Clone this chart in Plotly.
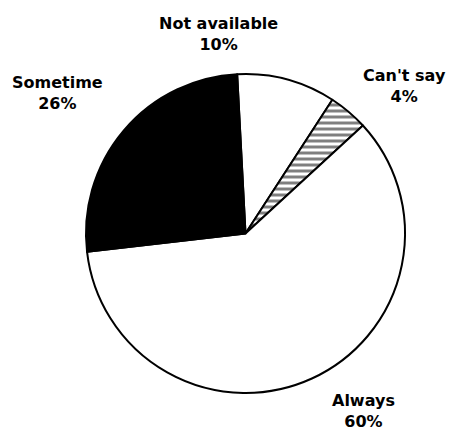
import plotly.graph_objects as go

labels = ["Not available", "Can't say", "Always", "Sometime"]
values = [10, 4, 60, 26]
colors = ["white", "white", "white", "black"]
patterns = ["", "-", "", ""]

W, H = 454, 435
# label block centres in pixels (x, y of the two-line block)
label_pos = [(218, 34), (404, 86), (363, 411), (57, 93)]

fig = go.Figure()
fig.add_trace(go.Pie(
    labels=labels,
    values=values,
    sort=False,
    direction="clockwise",
    rotation=-3,
    textinfo="none",
    hoverinfo="label+percent",
    showlegend=False,
    marker=dict(
        colors=colors,
        line=dict(color="black", width=2),
        pattern=dict(shape=patterns, fgcolor="black", bgcolor="white",
                     size=6, solidity=0.5, fillmode="overlay"),
    ),
    domain=dict(x=[86 / W, 405 / W], y=[1 - 393 / H, 1 - 74 / H]),
))

total = sum(values)
for lab, val, (px, py) in zip(labels, values, label_pos):
    fig.add_annotation(
        x=px / W, y=1 - py / H, xref="paper", yref="paper",
        text=f"<b>{lab}<br>{round(100 * val / total)}%</b>",
        showarrow=False, xanchor="center", yanchor="middle",
        font=dict(family="DejaVu Sans", size=16, color="black"),
    )

fig.update_layout(
    width=W, height=H,
    margin=dict(l=0, r=0, t=0, b=0),
    paper_bgcolor="white", plot_bgcolor="white",
)
fig.write_html(
    "out.html",
    config={"displayModeBar": False},
    post_script="document.body.style.margin='0';document.body.style.padding='0';",
)
